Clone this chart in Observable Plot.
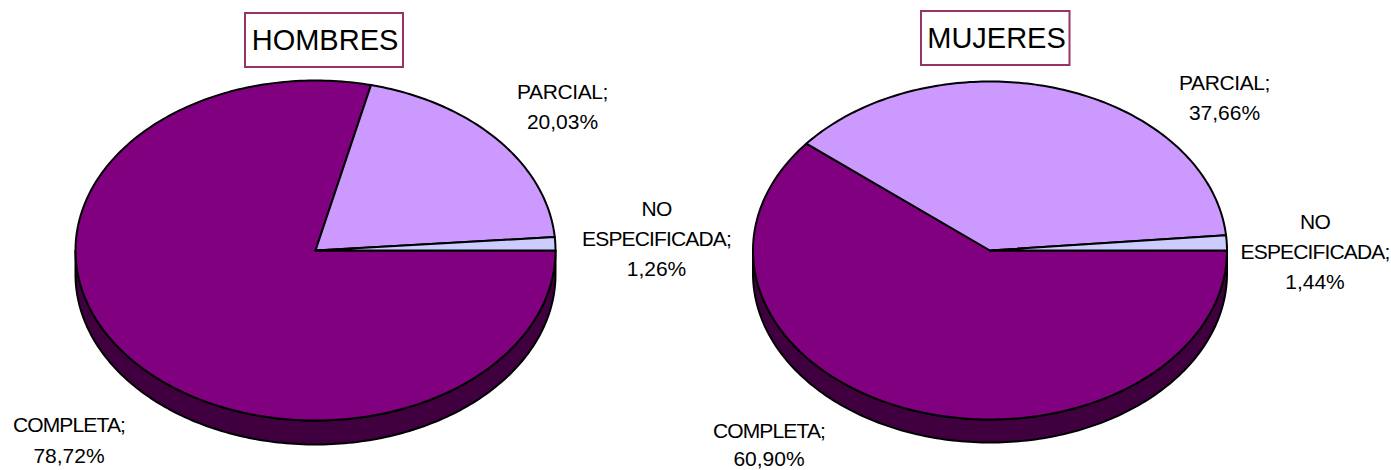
<!DOCTYPE html>
<html>
<head>
<meta charset="utf-8">
<script src="https://cdn.jsdelivr.net/npm/d3@7"></script>
<script src="https://cdn.jsdelivr.net/npm/@observablehq/plot@0.6"></script>
<style>
html,body{margin:0;padding:0;background:#fff}
svg{display:block}
.tight text{letter-spacing:-0.85px}
.tightP text{letter-spacing:-0.4px}
</style>
</head>
<body>
<div id="chart"></div>
<script>
// Data
const categories = ["COMPLETA", "PARCIAL", "NO ESPECIFICADA"];
const hombresValues = [78.72, 20.03, 1.26];
const mujeresValues = [60.90, 37.66, 1.44];
const valueLabelsH = ["78,72%", "20,03%", "1,26%"];
const valueLabelsM = ["60,90%", "37,66%", "1,44%"];
const sliceColors = ["#800080", "#CC99FF", "#CCCCFF"];
const sideColor = "#400040";
const frameColor = "#993366";

// Layout of each pie (page pixels)
const pieH = {title:"HOMBRES", values:hombresValues, labels:valueLabelsH,
  cx:315, cy:250, rx:240, ry:170, depth:24,
  box:[245,403,13,67], titleAt:[324.5,40],
  labelAt:[[68.5,425,456],[562,92,122],[656,209,269]]};
const pieM = {title:"MUJERES", values:mujeresValues, labels:valueLabelsM,
  cx:989.5, cy:250, rx:237, ry:169, depth:23,
  box:[921,1069.5,11,65], titleAt:[996,38],
  labelAt:[[768.5,431,459],[1224,83,113],[1314.5,222,282]]};

const rad = d => d * Math.PI / 180;
function arcPoints(p, a0, a1, dy = 0) {
  const n = Math.max(2, Math.ceil(Math.abs(a1 - a0)));
  return d3.range(n + 1).map(i => {
    const a = rad(a0 + (a1 - a0) * i / n);
    return {x: p.cx + p.rx * Math.cos(a), y: p.cy + dy + p.ry * Math.sin(a)};
  });
}
function sliceShapes(p) {
  const total = d3.sum(p.values);
  let acc = 0;
  return p.values.map(v => {
    const a0 = acc / total * 360;
    acc += v;
    const a1 = acc / total * 360;
    const c = {x: p.cx, y: p.cy};
    return [c, ...arcPoints(p, a0, a1), c];
  });
}
function sideShape(p) {
  return [...arcPoints(p, 0, 180), ...arcPoints(p, 180, 0, p.depth), {x:p.cx + p.rx, y:p.cy}];
}

const marks = [];
const font = {fontFamily: "Liberation Sans, Arial, sans-serif", fill: "#000"};
for (const p of [pieH, pieM]) {
  marks.push(Plot.line(sideShape(p), {x:"x", y:"y", fill:sideColor, stroke:"#000", strokeWidth:2, curve:"linear"}));
  sliceShapes(p).forEach((s, i) =>
    marks.push(Plot.line(s, {x:"x", y:"y", fill:sliceColors[i], stroke:"#000", strokeWidth:2, curve:"linear"})));
  const [bx1, bx2, by1, by2] = p.box;
  marks.push(Plot.rect([p], {x1:() => bx1, x2:() => bx2, y1:() => by1, y2:() => by2, fill:"#fff", stroke:frameColor, strokeWidth:2}));
  marks.push(Plot.text([p.title], {x:() => p.titleAt[0], y:() => p.titleAt[1], text:d => d, fontSize:29, ...font}));
  // Category labels
  const lines = [];
  categories.forEach((c, i) => {
    const [x, y0, y1] = p.labelAt[i];
    if (c === "NO ESPECIFICADA") {
      lines.push({t:"NO", x, y:y0, cls:0}, {t:"ESPECIFICADA;", x, y:(y0 + y1) / 2, cls:0});
    } else {
      lines.push({t:c + ";", x, y:y0, cls:c === "PARCIAL" ? 1 : 0});
    }
    lines.push({t:p.labels[i], x, y:y1, cls:2});
  });
  marks.push(Plot.text(lines.filter(d => d.cls === 0), {x:"x", y:"y", text:"t", fontSize:21, className:"tight", ...font}));
  marks.push(Plot.text(lines.filter(d => d.cls === 1), {x:"x", y:"y", text:"t", fontSize:21, className:"tightP", ...font}));
  marks.push(Plot.text(lines.filter(d => d.cls === 2), {x:"x", y:"y", text:"t", fontSize:21, ...font}));
}

document.getElementById("chart").append(Plot.plot({
  width: 1391, height: 470,
  margin: 0,
  x: {domain: [0, 1391], range: [0, 1391], axis: null},
  y: {domain: [0, 470], range: [0, 470], axis: null},
  marks
}));
</script>
</body>
</html>
